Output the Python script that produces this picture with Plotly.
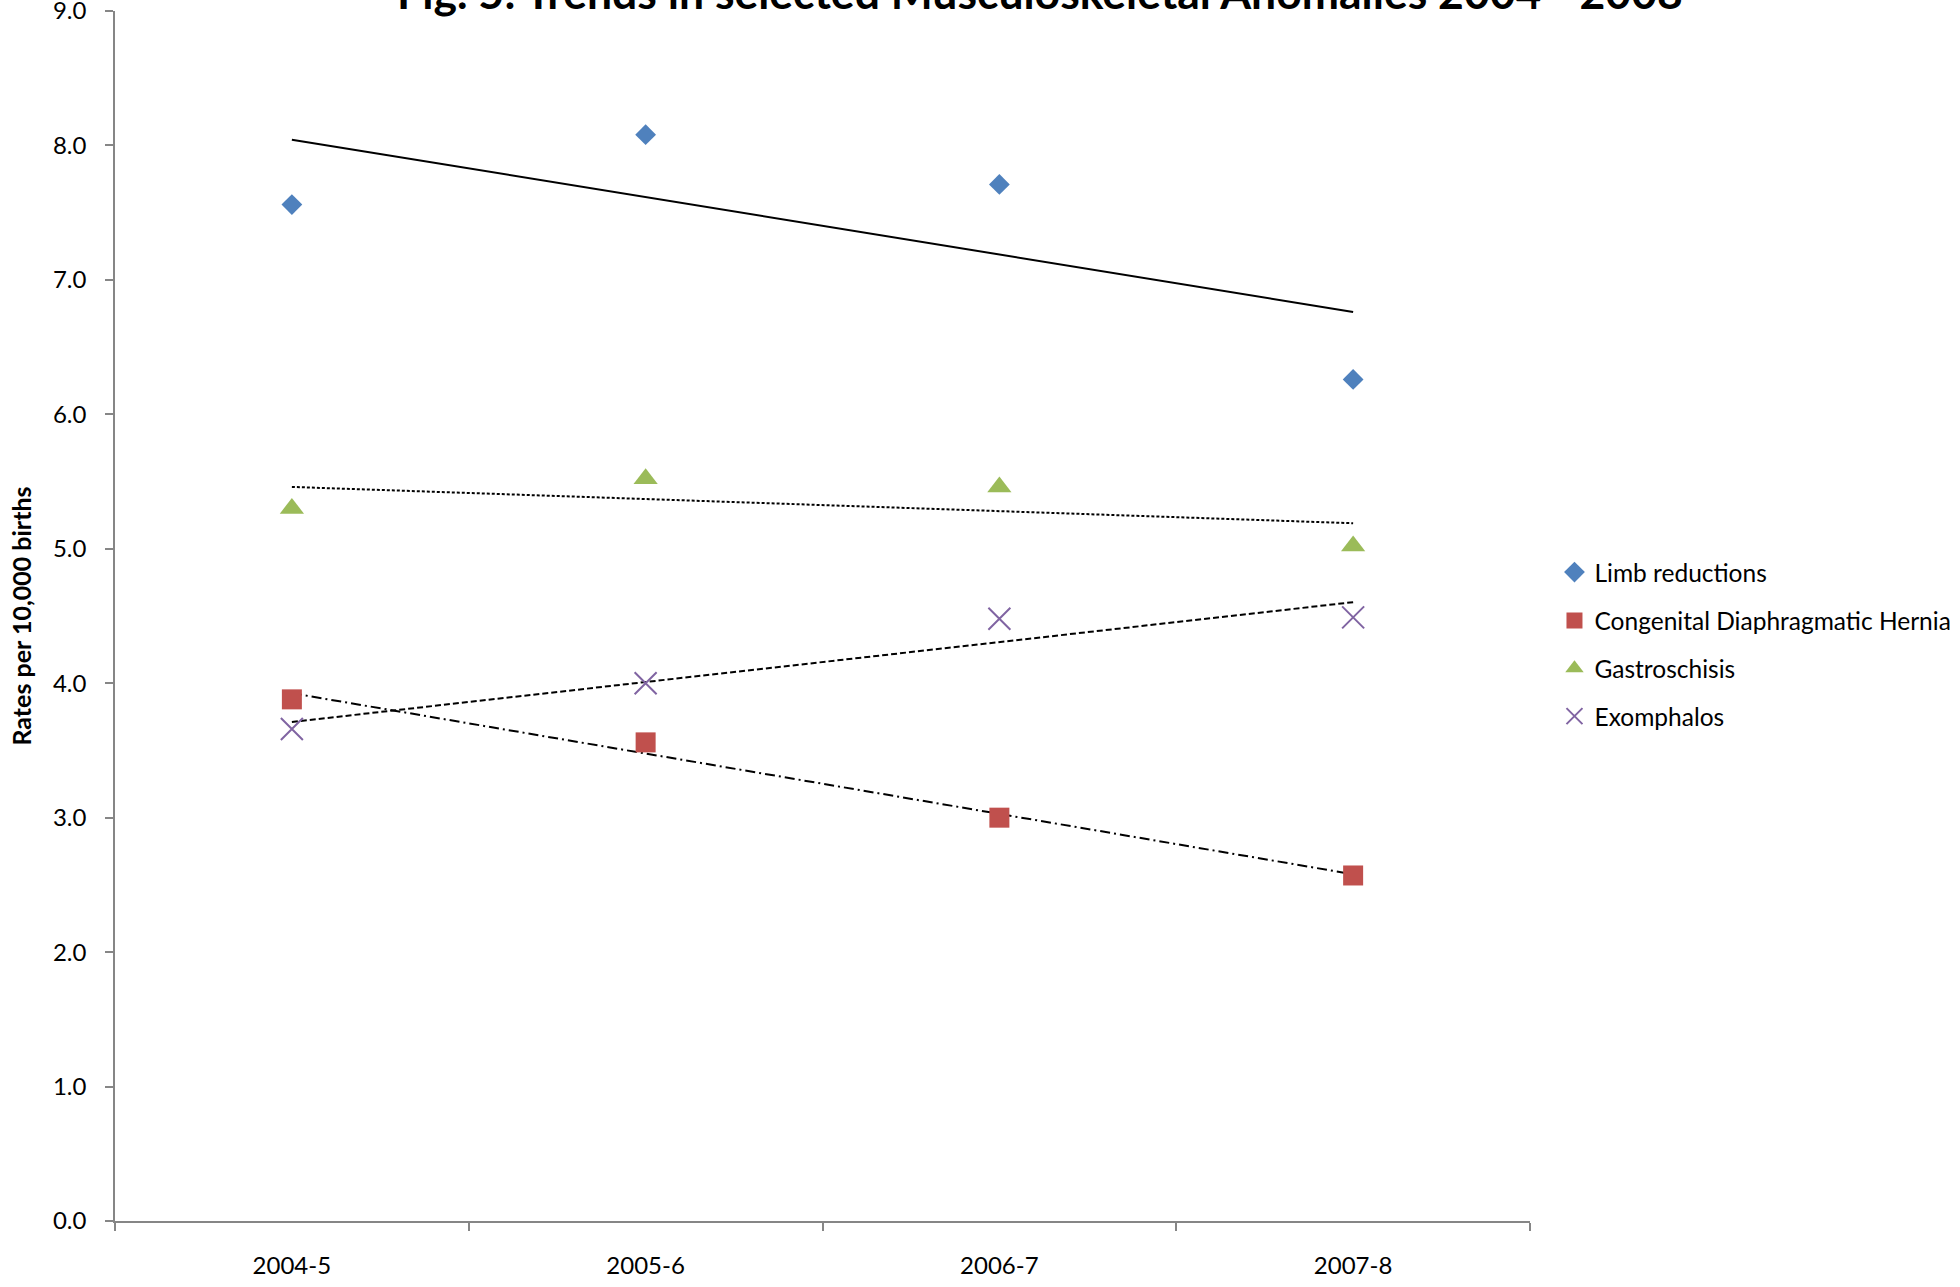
import numpy as np
import plotly.graph_objects as go

# Years (financial) and rates per 10,000 births
periods = ["2004-5", "2005-6", "2006-7", "2007-8"]
limb_reductions = [7.56, 8.08, 7.71, 6.26]
cdh = [3.88, 3.56, 3.00, 2.57]
gastroschisis = [5.30, 5.52, 5.46, 5.02]
exomphalos = [3.66, 4.00, 4.48, 4.49]

series_names = ["Limb reductions", "Congenital Diaphragmatic Hernia",
                "Gastroschisis", "Exomphalos"]
y_ticks = [0, 1, 2, 3, 4, 5, 6, 7, 8, 9]

FONT = "Lato"
series = [
    (series_names[0], limb_reductions, "#4F81BD", "diamond", 16, "solid"),
    (series_names[1], cdh, "#C0504D", "square", 20, "10px,4px,2px,4px"),
    (series_names[2], gastroschisis, "#9BBB59", "triangle-up", 21, "3px,2px"),
    (series_names[3], exomphalos, "#8064A2", "x-thin", 22, "6px,3px"),
]

fig = go.Figure()
idx = np.arange(len(periods))
legend_ids = ["legend", "legend2", "legend3", "legend4"]

for k, (name, vals, color, symbol, size, dash) in enumerate(series):
    # linear trend line fitted to the series
    slope, intercept = np.polyfit(idx, vals, 1)
    fig.add_trace(go.Scatter(
        x=[periods[0], periods[-1]],
        y=[intercept, intercept + slope * idx[-1]],
        mode="lines",
        line=dict(color="black", width=2, dash=dash),
        showlegend=False, hoverinfo="skip",
    ))
    marker = dict(color=color, symbol=symbol, size=size)
    if symbol == "x-thin":
        marker["line"] = dict(color=color, width=2)
    fig.add_trace(go.Scatter(
        x=periods, y=vals, mode="markers", name=name,
        marker=marker, legend=legend_ids[k],
    ))

legend_rows = [0.5362, 0.4962, 0.4567, 0.4172]
layout_legends = {}
for k, lid in enumerate(legend_ids):
    layout_legends[lid] = dict(
        x=1.0173, xanchor="left", y=legend_rows[k], yanchor="middle",
        font=dict(family=FONT, size=24.5, color="black"),
        bgcolor="rgba(0,0,0,0)", borderwidth=0, itemsizing="trace",
    )

fig.update_layout(
    width=1960, height=1287,
    margin=dict(l=115, r=430, t=11, b=66, autoexpand=False),
    plot_bgcolor="white", paper_bgcolor="white",
    font=dict(family=FONT, size=24, color="black"),
    **layout_legends,
    xaxis=dict(
        type="category", categoryorder="array", categoryarray=periods,
        range=[-0.5, 3.5], tickson="boundaries",
        ticks="outside", ticklen=8, tickcolor="#868686", tickwidth=1.5,
        showline=True, linecolor="#868686", linewidth=2,
        showgrid=False, zeroline=False, ticklabelstandoff=22,
        tickfont=dict(family=FONT, size=24),
    ),
    yaxis=dict(
        range=[0, 9], tickvals=y_ticks,
        ticktext=[f"{v:.1f}" for v in y_ticks],
        ticks="outside", ticklen=8, tickcolor="#868686", tickwidth=1.5,
        showline=True, linecolor="#868686", linewidth=1.5,
        showgrid=False, zeroline=False, ticklabelstandoff=14,
        ticklabeloverflow="allow",
        tickfont=dict(family=FONT, size=24),
        title=dict(text="<b>Rates per 10,000 births</b>",
                   font=dict(family=FONT, size=25), standoff=14),
    ),
    annotations=[dict(
        text="<b>Fig. 5: Trends in selected Musculoskeletal Anomalies 2004 - 2008</b>",
        xref="paper", yref="paper", x=0.654, y=1, xanchor="center",
        yanchor="bottom", yshift=-9, showarrow=False,
        font=dict(family=FONT, size=44.5, color="black"),
    )],
)

fig.write_html("out.html")
